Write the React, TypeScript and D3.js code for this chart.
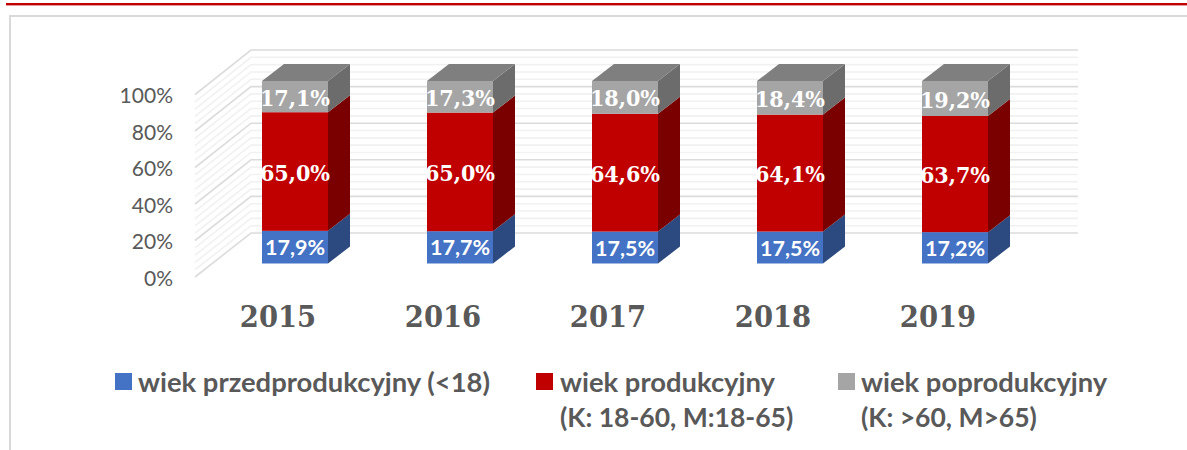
import React from "react";
import * as d3 from "d3";

const years = ["2015", "2016", "2017", "2018", "2019"];
const seriesKeys = ["pre", "prod", "post"];
const preValues = [17.9, 17.7, 17.5, 17.5, 17.2];
const prodValues = [65.0, 65.0, 64.6, 64.1, 63.7];
const postValues = [17.1, 17.3, 18.0, 18.4, 19.2];
const axisTicks = [0, 20, 40, 60, 80, 100];
const minorTicks = d3.range(0, 101, 4);

const frontColors = ["#4472C4", "#C00000", "#A5A5A5"];
const sideColors = ["#2C4A80", "#7A0000", "#6C6C6C"];
const topColor = "#7F7F7F";

const CAL = "Lato, 'Open Sans', sans-serif";
const CAM = "'DejaVu Serif Condensed', 'Liberation Serif', serif";

const W = 1187;
const H = 450;

export default function App() {
  const rows = years.map((y, i) => ({
    year: y,
    pre: preValues[i],
    prod: prodValues[i],
    post: postValues[i],
  }));
  const stacked = d3.stack<any>().keys(seriesKeys).offset(d3.stackOffsetExpand)(rows);

  const xBar = d3.scaleLinear().domain([0, 4]).range([262, 922]);
  const barW = 66;
  const dx = 22;
  const dy = 17;
  const yBar = d3.scaleLinear().domain([0, 1]).range([263.5, 81]);
  const yFront = d3.scaleLinear().domain([0, 100]).range([277, 94.5]);
  const yBack = d3.scaleLinear().domain([0, 100]).range([233, 50]);
  const wallL = 195;
  const wallB = 251;
  const wallR = 1078;
  const fmt = (v: number) => v.toFixed(1).replace(".", ",") + "%";
  const valueArrays = [preValues, prodValues, postValues];

  return (
    <svg width={W} height={H} style={{ position: "absolute", left: 0, top: 0, background: "#fff" }}>
      <rect x={6} y={3} width={W - 6} height={2.4} fill="#C00000" />
      <path d={`M${10} ${H}V16H${W}`} fill="none" stroke="#D9D9D9" strokeWidth={2} />

      {minorTicks.map((t) => {
        const major = t % 20 === 0;
        return (
          <path
            key={t}
            d={`M${wallL} ${yFront(t)}L${wallB} ${yBack(t)}H${wallR}`}
            fill="none"
            stroke={major ? "#DCDCDC" : "#F1F1F1"}
            strokeWidth={1.6}
          />
        );
      })}

      {axisTicks.map((t) => (
        <text key={t} x={173} y={yFront(t) + 8.5} textAnchor="end" fontFamily={CAL} fontSize={21} fill="#595959">
          {t}%
        </text>
      ))}

      {years.map((y, i) => {
        const x = xBar(i);
        const topOfBar = yBar(1);
        return (
          <g key={y}>
            {stacked.map((s, si) => {
              const d = s[i];
              const y0 = yBar(d[0]);
              const y1 = yBar(d[1]);
              return (
                <g key={si}>
                  <path
                    d={`M${x + barW} ${y0}L${x + barW + dx} ${y0 - dy}V${y1 - dy}L${x + barW} ${y1}Z`}
                    fill={sideColors[si]}
                  />
                  <rect x={x} y={y1} width={barW} height={y0 - y1} fill={frontColors[si]} />
                </g>
              );
            })}
            <path
              d={`M${x} ${topOfBar}L${x + dx} ${topOfBar - dy}H${x + barW + dx}L${x + barW} ${topOfBar}Z`}
              fill={topColor}
            />
          </g>
        );
      })}

      {years.map((y, i) =>
        stacked.map((s, si) => {
          const d = s[i];
          const cy = (yBar(d[0]) + yBar(d[1])) / 2;
          const isBlue = si === 0;
          return (
            <text
              key={y + si}
              x={xBar(i) + barW / 2}
              y={cy + (isBlue ? 8 : 9)}
              textAnchor="middle"
              fontFamily={isBlue ? CAL : CAM}
              fontWeight="bold"
              fontSize={isBlue ? 21.5 : 23}
              fill="#fff"
            >
              {fmt(valueArrays[si][i])}
            </text>
          );
        })
      )}

      {years.map((y, i) => (
        <text
          key={y}
          x={xBar(i) + 16}
          y={327}
          textAnchor="middle"
          fontFamily={CAM}
          fontWeight="bold"
          fontSize={30.5}
          fill="#595959"
        >
          {y}
        </text>
      ))}

      <rect x={115} y={373} width={17} height={17} fill={frontColors[0]} />
      <text x={138} y={391.5} fontFamily={CAL} fontWeight="bold" fontSize={27.4} fill="#595959">wiek przedprodukcyjny (&lt;18)</text>
      <rect x={536} y={373} width={17} height={17} fill={frontColors[1]} />
      <text x={560} y={391.5} fontFamily={CAL} fontWeight="bold" fontSize={27.4} fill="#595959">wiek produkcyjny</text>
      <text x={560} y={427} fontFamily={CAL} fontWeight="bold" fontSize={26.5} fill="#595959">(K: 18-60, M:18-65)</text>
      <rect x={838} y={373} width={17} height={17} fill={frontColors[2]} />
      <text x={861} y={391.5} fontFamily={CAL} fontWeight="bold" fontSize={27.4} fill="#595959">wiek poprodukcyjny</text>
      <text x={861} y={427} fontFamily={CAL} fontWeight="bold" fontSize={26.5} fill="#595959">(K: &gt;60, M&gt;65)</text>
    </svg>
  );
}
